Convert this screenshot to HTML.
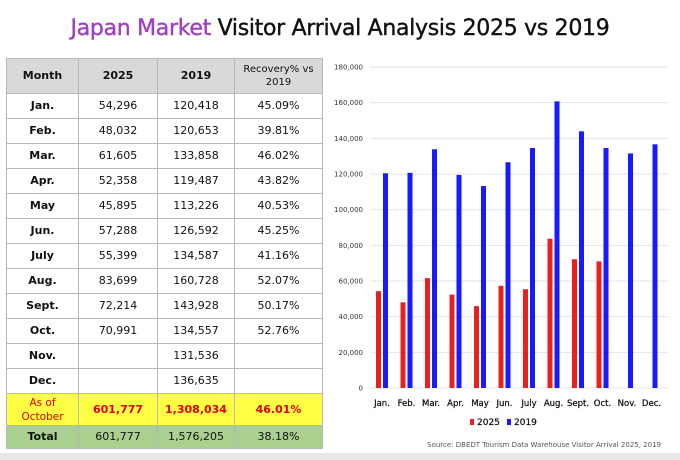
<!DOCTYPE html>
<html><head><style>
body{margin:0;width:680px;height:460px;background:#fff;font-family:"DejaVu Sans","Liberation Sans",sans-serif;position:relative;overflow:hidden}
.title{position:absolute;top:16px;left:0;width:680px;text-align:center;font-size:22px;color:#111;letter-spacing:-0.3px;-webkit-text-stroke:0.4px #111}
.title span{color:#a040c0;-webkit-text-stroke:0.4px #a040c0}
table{position:absolute;left:6px;top:58px;border-collapse:collapse;table-layout:fixed;width:316px;font-size:11px;color:#111}
td{border:1px solid #b8b8b8;text-align:center;padding:0;height:24px;line-height:12px;overflow:hidden;white-space:nowrap}
tr.h td{background:#d9d9d9;height:34px}
tr.y td{background:#ffff44;color:#e00000;font-weight:bold;height:31px}
tr.g td{background:#a9d08e;height:22px}
.b{font-weight:bold}
.band{position:absolute;left:0;top:453px;width:680px;height:7px;background:#e8e8e8}
</style></head><body>
<div class="title"><span>Japan Market</span> Visitor Arrival Analysis 2025 vs 2019</div>
<table>
<colgroup><col style="width:72px"><col style="width:79px"><col style="width:77px"><col style="width:88px"></colgroup>
<tr class="h"><td class="b">Month</td><td class="b">2025</td><td class="b">2019</td><td style="font-size:10px;line-height:13px">Recovery% vs<br>2019</td></tr>
<tr><td class="b">Jan.</td><td>54,296</td><td>120,418</td><td>45.09%</td></tr>
<tr><td class="b">Feb.</td><td>48,032</td><td>120,653</td><td>39.81%</td></tr>
<tr><td class="b">Mar.</td><td>61,605</td><td>133,858</td><td>46.02%</td></tr>
<tr><td class="b">Apr.</td><td>52,358</td><td>119,487</td><td>43.82%</td></tr>
<tr><td class="b">May</td><td>45,895</td><td>113,226</td><td>40.53%</td></tr>
<tr><td class="b">Jun.</td><td>57,288</td><td>126,592</td><td>45.25%</td></tr>
<tr><td class="b">July</td><td>55,399</td><td>134,587</td><td>41.16%</td></tr>
<tr><td class="b">Aug.</td><td>83,699</td><td>160,728</td><td>52.07%</td></tr>
<tr><td class="b">Sept.</td><td>72,214</td><td>143,928</td><td>50.17%</td></tr>
<tr><td class="b">Oct.</td><td>70,991</td><td>134,557</td><td>52.76%</td></tr>
<tr><td class="b">Nov.</td><td></td><td>131,536</td><td></td></tr>
<tr><td class="b">Dec.</td><td></td><td>136,635</td><td></td></tr>
<tr class="y"><td style="font-weight:normal;font-size:10.5px;line-height:14px">As of<br>October</td><td>601,777</td><td>1,308,034</td><td>46.01%</td></tr>
<tr class="g"><td class="b">Total</td><td>601,777</td><td>1,576,205</td><td>38.18%</td></tr>
</table>
<svg style="position:absolute;left:0;top:0" width="680" height="460" id="c"></svg>
<div class="band"></div>
<script>
const s=document.getElementById('c');let h='';
const y0=388,k=321/180000;
for(let v=0;v<=180000;v+=20000){const y=y0-v*k;
h+=`<line x1="370" x2="668" y1="${y}" y2="${y}" stroke="#e6e6e6"/>`;
h+=`<text x="363" y="${y+2.5}" font-size="7" text-anchor="end" fill="#333" font-family="DejaVu Sans">${v.toLocaleString('en-US')}</text>`;}
const a=[54296,48032,61605,52358,45895,57288,55399,83699,72214,70991,0,0];
const b=[120418,120653,133858,119487,113226,126592,134587,160728,143928,134557,131536,136635];
const m=['Jan.','Feb.','Mar.','Apr.','May','Jun.','July','Aug.','Sept.','Oct.','Nov.','Dec.'];
for(let i=0;i<12;i++){const c=382+i*24.5;
if(a[i])h+=`<rect x="${c-6}" y="${y0-a[i]*k}" width="5" height="${a[i]*k}" fill="#e82020"/>`;
h+=`<rect x="${c+1}" y="${y0-b[i]*k}" width="5" height="${b[i]*k}" fill="#1a1aff"/>`;
h+=`<text x="${c}" y="406" font-size="8.5" text-anchor="middle" fill="#111" font-family="DejaVu Sans" stroke="#111" stroke-width="0.25">${m[i]}</text>`;}
h+=`<rect x="470" y="419" width="4" height="6" fill="#e82020"/><text x="477" y="425" font-size="9" fill="#111" font-family="DejaVu Sans" stroke="#111" stroke-width="0.25">2025</text>`;
h+=`<rect x="507" y="419" width="4" height="6" fill="#1a1aff"/><text x="514" y="425" font-size="9" fill="#111" font-family="DejaVu Sans" stroke="#111" stroke-width="0.25">2019</text>`;
h+=`<text x="661" y="447" font-size="7" text-anchor="end" fill="#555" font-family="DejaVu Sans">Source: DBEDT Tourism Data Warehouse Visitor Arrival 2025, 2019</text>`;
s.innerHTML=h;
</script>
</body></html>
